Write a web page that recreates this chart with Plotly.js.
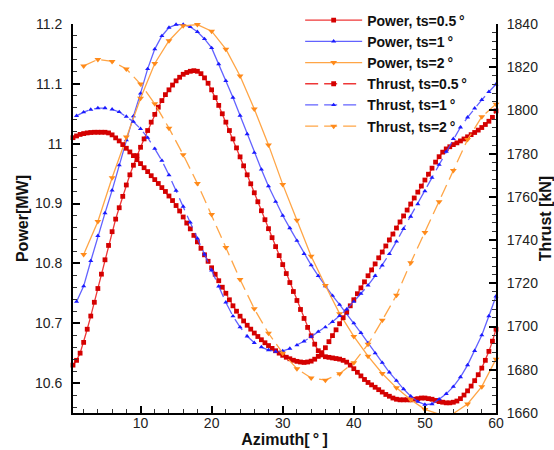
<!DOCTYPE html>
<html>
<head>
<meta charset="utf-8">
<script src="https://cdn.plot.ly/plotly-3.0.1.min.js"></script>
<style>html,body{margin:0;padding:0;background:#fff;}#chart{width:554px;height:450px;}</style>
</head>
<body>
<div id="chart"></div>
<script>
// Azimuth sampling (deg)
const az05 = [0.5,1,1.5,2,2.5,3,3.5,4,4.5,5,5.5,6,6.5,7,7.5,8,8.5,9,9.5,10,
10.5,11,11.5,12,12.5,13,13.5,14,14.5,15,15.5,16,16.5,17,17.5,18,18.5,19,19.5,20,
20.5,21,21.5,22,22.5,23,23.5,24,24.5,25,25.5,26,26.5,27,27.5,28,28.5,29,29.5,30,
30.5,31,31.5,32,32.5,33,33.5,34,34.5,35,35.5,36,36.5,37,37.5,38,38.5,39,39.5,40,
40.5,41,41.5,42,42.5,43,43.5,44,44.5,45,45.5,46,46.5,47,47.5,48,48.5,49,49.5,50,
50.5,51,51.5,52,52.5,53,53.5,54,54.5,55,55.5,56,56.5,57,57.5,58,58.5,59,59.5,60];
const az1 = [1,2,3,4,5,6,7,8,9,10,11,12,13,14,15,16,17,18,19,20,
21,22,23,24,25,26,27,28,29,30,31,32,33,34,35,36,37,38,39,40,
41,42,43,44,45,46,47,48,49,50,51,52,53,54,55,56,57,58,59,60];
const az2 = [2,4,6,8,10,12,14,16,18,20,22,24,26,28,30,32,34,36,38,40,
42,44,46,48,50,52,54,56,58,60];

// Power [MW]
const power05 = [10.630,10.638,10.650,10.668,10.690,10.712,10.735,10.758,10.782,10.806,
10.830,10.853,10.874,10.893,10.912,10.931,10.948,10.964,10.980,10.994,
11.008,11.022,11.036,11.049,11.061,11.072,11.082,11.090,11.098,11.105,
11.111,11.116,11.119,11.121,11.122,11.121,11.117,11.110,11.101,11.090,
11.077,11.064,11.050,11.036,11.022,11.008,10.993,10.978,10.963,10.948,
10.933,10.918,10.903,10.888,10.873,10.858,10.843,10.828,10.813,10.798,
10.783,10.768,10.753,10.738,10.723,10.708,10.693,10.679,10.665,10.654,
10.647,10.644,10.643,10.642,10.641,10.640,10.638,10.635,10.630,10.624,
10.618,10.612,10.606,10.601,10.597,10.593,10.589,10.585,10.581,10.578,
10.575,10.573,10.572,10.572,10.572,10.572,10.573,10.574,10.575,10.575,
10.574,10.573,10.571,10.569,10.568,10.567,10.567,10.568,10.570,10.574,
10.580,10.587,10.595,10.604,10.614,10.625,10.638,10.653,10.670,10.690];
const power1 = [10.736,10.762,10.804,10.846,10.884,10.922,10.964,11.006,11.046,11.084,
11.125,11.158,11.180,11.194,11.199,11.199,11.195,11.187,11.175,11.160,
11.133,11.105,11.077,11.047,11.016,10.985,10.957,10.929,10.903,10.880,
10.859,10.838,10.816,10.797,10.779,10.762,10.746,10.731,10.716,10.700,
10.684,10.667,10.650,10.634,10.618,10.604,10.590,10.578,10.569,10.564,
10.565,10.573,10.582,10.594,10.610,10.630,10.654,10.680,10.712,10.745];
const power2 = [10.815,10.870,10.943,11.011,11.076,11.134,11.172,11.197,11.199,11.188,
11.158,11.113,11.058,10.998,10.932,10.872,10.812,10.763,10.716,10.678,
10.645,10.616,10.592,10.572,10.556,10.548,10.549,10.565,10.594,10.640];

// Thrust [kN]
const thrust05 = [1787.4,1788.2,1788.9,1789.3,1789.6,1789.8,1789.9,1789.9,1789.9,1789.9,
1789.6,1788.7,1787.3,1785.9,1784.2,1782.5,1780.8,1779.1,1777.2,1775.4,
1773.5,1771.7,1769.8,1768.0,1766.2,1764.3,1762.5,1760.4,1758.3,1756.0,
1753.5,1750.7,1747.9,1745.2,1742.2,1739.2,1736.2,1733.2,1730.2,1727.2,
1724.2,1721.2,1718.2,1715.4,1712.4,1709.6,1707.1,1704.8,1702.6,1700.6,
1698.8,1697.0,1695.4,1693.9,1692.5,1691.2,1689.9,1688.8,1687.7,1686.7,
1685.8,1685.1,1684.4,1683.9,1683.6,1683.4,1683.6,1684.0,1684.9,1686.2,
1687.9,1690.2,1693.0,1695.8,1698.5,1701.3,1704.1,1706.8,1709.6,1712.4,
1715.2,1717.9,1720.7,1723.5,1726.2,1729.0,1731.8,1734.5,1737.3,1740.1,
1742.8,1745.6,1748.4,1751.2,1753.9,1756.7,1759.5,1762.2,1765.0,1767.8,
1770.5,1773.3,1776.1,1778.6,1780.7,1782.2,1783.2,1784.2,1785.0,1785.9,
1786.8,1787.8,1788.8,1789.8,1790.9,1792.1,1793.5,1795.0,1796.8,1799.8];
const thrust1 = [1797.5,1799.2,1800.4,1801.1,1801.1,1800.5,1799.3,1797.2,1794.8,1791.5,
1787.4,1782.3,1776.8,1770.1,1762.9,1755.5,1748.2,1740.8,1733.4,1726.0,
1718.6,1711.2,1704.8,1699.7,1695.5,1692.5,1690.5,1689.1,1688.4,1688.7,
1689.8,1691.4,1693.2,1695.3,1697.6,1699.7,1702.2,1705.0,1708.0,1711.5,
1715.2,1719.1,1723.5,1728.3,1733.6,1739.4,1745.2,1750.9,1756.7,1762.7,
1768.9,1774.9,1780.9,1786.9,1792.2,1796.8,1801.0,1804.9,1808.6,1812.1];
const thrust2 = [1820.6,1823.6,1822.7,1819.2,1812.2,1803.1,1791.8,1779.5,1766.2,1751.8,
1736.6,1721.8,1708.2,1696.9,1687.7,1680.5,1676.2,1675.2,1678.2,1683.3,
1691.8,1702.9,1714.5,1729.5,1743.5,1757.8,1772.2,1786.5,1797.1,1802.9];

const seriesNames = ['Power, ts=0.5\u2009°','Power, ts=1\u2009°','Power, ts=2\u2009°',
                     'Thrust, ts=0.5\u2009°','Thrust, ts=1\u2009°','Thrust, ts=2\u2009°'];
const powerTicks = [10.6,10.7,10.8,10.9,11,11.1,11.2];
const powerTickText = ['10.6','10.7','10.8','10.9','11','11.1','11.2'];
const azTicks = [10,20,30,40,50,60];

const RED = {line:'rgba(235,20,20,0.85)', mk:'#d40000', sym:'square', size:4.8};
const BLUE = {line:'rgba(70,70,255,0.85)', mk:'#1a1aff', sym:'triangle-up', size:4.5};
const ORANGE = {line:'rgba(255,160,60,0.95)', mk:'#ff8a1a', sym:'triangle-down', size:6};

function tr(x, y, st, name, dash, yaxis){
  return {x:x, y:y, name:name, type:'scatter', mode:'lines+markers', yaxis:yaxis,
    line:{color:st.line, width:1.3, dash:dash},
    marker:{symbol:st.sym, size:st.size, color:st.mk, line:{width:0}},
    cliponaxis:false};
}
const DASH = '13px,6px';
const data = [
  tr(az05, power05, RED, seriesNames[0], 'solid', 'y'),
  tr(az1, power1, BLUE, seriesNames[1], 'solid', 'y'),
  tr(az2, power2, ORANGE, seriesNames[2], 'solid', 'y'),
  tr(az05, thrust05, RED, seriesNames[3], DASH, 'y2'),
  tr(az1, thrust1, BLUE, seriesNames[4], DASH, 'y2'),
  tr(az2, thrust2, ORANGE, seriesNames[5], DASH, 'y2')
];

const FONT = 'Liberation Sans, Arial, Helvetica, sans-serif';
const tickFont = {family:FONT, size:14, color:'#222'};
const titleFont = {family:FONT, size:16, color:'#111', weight:'bold'};

const layout = {
  width:554, height:450,
  margin:{l:73, r:58, t:24, b:37, pad:0, autoexpand:false},
  paper_bgcolor:'#fff', plot_bgcolor:'#fff',
  showlegend:true,
  legend:{x:0.537, y:1.05, xanchor:'left', yanchor:'top', bgcolor:'rgba(0,0,0,0)',
    borderwidth:0, itemwidth:57, tracegroupgap:0,
    font:{family:FONT, size:14, color:'#111', weight:'bold'}},
  xaxis:{range:[0.5,60], tickvals:azTicks, ticks:'inside', ticklen:7, tickwidth:2, tickcolor:'#000',
    showline:true, linewidth:2, linecolor:'#000', showgrid:false, zeroline:false, automargin:false,
    minor:{dtick:2, tick0:0, ticks:'inside', ticklen:4, tickwidth:1, tickcolor:'#333', showgrid:false},
    tickfont:tickFont, ticklabelstandoff:-4,
    title:{text:'Azimuth[\u2009°\u2009]', font:titleFont, standoff:2}},
  yaxis:{range:[10.55,11.2], tickvals:powerTicks, ticktext:powerTickText, ticks:'inside', ticklen:7, tickwidth:2, tickcolor:'#000',
    showline:true, linewidth:2, linecolor:'#000', showgrid:false, zeroline:false, automargin:false,
    minor:{dtick:0.02, tick0:10.6, ticks:'inside', ticklen:4, tickwidth:1, tickcolor:'#333', showgrid:false},
    tickfont:tickFont, ticklabelstandoff:6,
    title:{text:'Power[MW]', font:titleFont, standoff:2}},
  yaxis2:{range:[1660,1840], dtick:20, tick0:1660, overlaying:'y', side:'right', anchor:'x',
    ticks:'inside', ticklen:7, tickwidth:2, tickcolor:'#000', automargin:false,
    showline:true, linewidth:2, linecolor:'#000', showgrid:false, zeroline:false,
    minor:{dtick:4, tick0:1660, ticks:'inside', ticklen:4, tickwidth:1, tickcolor:'#333', showgrid:false},
    tickfont:tickFont, ticklabelstandoff:6,
    title:{text:'Thrust [kN]', font:titleFont, standoff:6}}
};

Plotly.newPlot('chart', data, layout, {displayModeBar:false, staticPlot:true});
</script>
</body>
</html>
